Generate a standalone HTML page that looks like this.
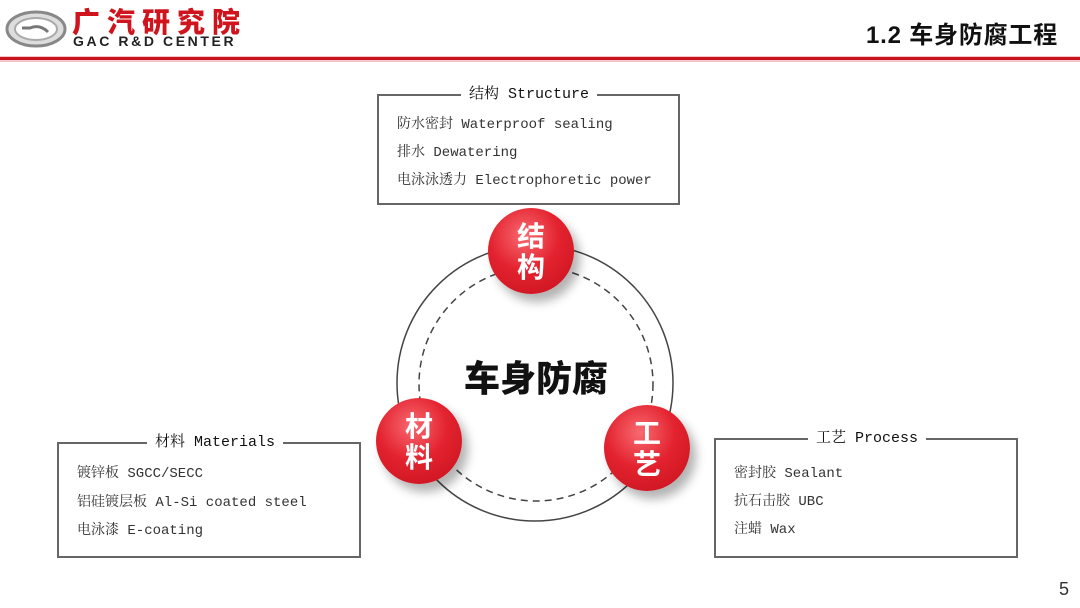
<!DOCTYPE html>
<html><head><meta charset="utf-8"><style>
body{margin:0;width:1080px;height:608px;background:#fff;position:relative;overflow:hidden;font-family:"Liberation Sans","Noto Sans CJK SC",sans-serif}
.box{position:absolute;border:2px solid #666;box-sizing:border-box}
.ttl{position:absolute;top:-11px;background:#fff;padding:0 8px;font:15px "Liberation Mono","Noto Serif CJK SC",monospace;color:#111;line-height:20px;white-space:nowrap}
.ln{position:absolute;left:18px;font:14px "Liberation Mono","Noto Serif CJK SC",monospace;color:#333;white-space:nowrap;line-height:18px}
.c{position:absolute;width:86px;height:86px;border-radius:50%;background:radial-gradient(circle at 42% 32%,#f86a72 0%,#e3232f 45%,#c4101c 100%);box-shadow:6px 8px 10px rgba(0,0,0,.3);color:#fff;font:bold 28px "Noto Sans CJK SC",sans-serif;text-align:center;line-height:31px;display:flex;flex-direction:column;justify-content:center}
</style></head><body>
<svg width="1080" height="608" style="position:absolute;left:0;top:0">
<ellipse cx="36" cy="29" rx="29" ry="17" fill="#ddd" stroke="#888" stroke-width="3"/>
<ellipse cx="36" cy="29" rx="21" ry="11" fill="#fff" stroke="#aaa" stroke-width="2"/>
<path d="M22 28 h8 q10 -4 18 4" stroke="#777" stroke-width="3" fill="none"/>
<rect x="0" y="56" width="1080" height="6" fill="#f4c4c8"/>
<rect x="0" y="57" width="1080" height="3" fill="#c8141e"/>
<circle cx="535" cy="383" r="138" fill="none" stroke="#444" stroke-width="1.5"/>
<circle cx="536" cy="384" r="117" fill="none" stroke="#444" stroke-width="1.5" stroke-dasharray="7 5"/>
</svg>
<div style="position:absolute;left:72px;top:6px;font:900 28px 'Noto Sans CJK SC',sans-serif;color:#d0141e;line-height:30px;letter-spacing:7px">广汽研究院</div>
<div style="position:absolute;left:73px;top:33px;font:bold 14px 'Liberation Sans',sans-serif;color:#222;letter-spacing:2.6px">GAC R&amp;D CENTER</div>
<div style="position:absolute;left:866px;top:15px;font:bold 24px 'Liberation Sans','Noto Sans CJK SC',sans-serif;color:#111;letter-spacing:.8px">1.2 车身防腐工程</div>
<div style="position:absolute;left:1059px;top:579px;font:18px 'Liberation Sans',sans-serif;color:#333">5</div>

<div class="box" style="left:377px;top:94px;width:303px;height:111px">
<div class="ttl" style="left:82px">结构 Structure</div>
<div class="ln" style="top:20px">防水密封 Waterproof sealing</div>
<div class="ln" style="top:48px">排水 Dewatering</div>
<div class="ln" style="top:76px">电泳泳透力 Electrophoretic power</div>
</div>
<div class="box" style="left:57px;top:442px;width:304px;height:116px">
<div class="ttl" style="left:88px">材料 Materials</div>
<div class="ln" style="top:21px">镀锌板 SGCC/SECC</div>
<div class="ln" style="top:50px">铝硅镀层板 Al-Si coated steel</div>
<div class="ln" style="top:78px">电泳漆 E-coating</div>
</div>
<div class="box" style="left:714px;top:438px;width:304px;height:120px">
<div class="ttl" style="left:92px">工艺 Process</div>
<div class="ln" style="top:25px">密封胶 Sealant</div>
<div class="ln" style="top:53px">抗石击胶 UBC</div>
<div class="ln" style="top:81px">注蜡 Wax</div>
</div>

<div style="position:absolute;left:436px;top:350px;width:200px;text-align:center;font:900 36px 'Noto Sans CJK SC',sans-serif;color:#111">车身防腐</div>
<div class="c" style="left:488px;top:208px">结<br>构</div>
<div class="c" style="left:376px;top:398px">材<br>料</div>
<div class="c" style="left:604px;top:405px">工<br>艺</div>
</body></html>
